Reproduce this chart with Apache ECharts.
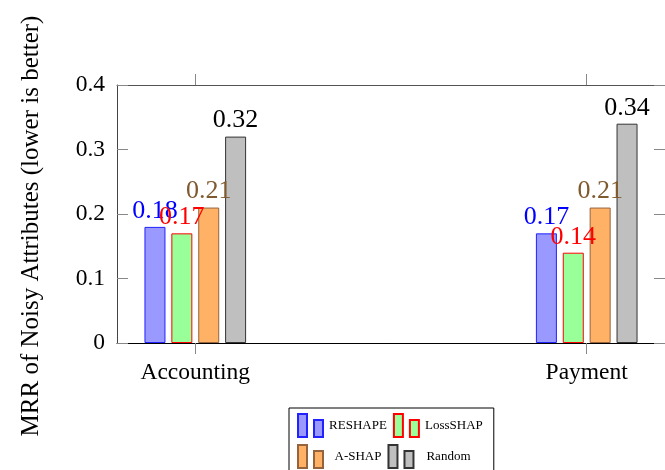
<!DOCTYPE html>
<html>
<head>
<meta charset="utf-8">
<script src="https://cdn.jsdelivr.net/npm/echarts@6/dist/echarts.min.js"></script>
<style>
  html, body { margin: 0; padding: 0; background: #fff; }
  #main { width: 665px; height: 470px; }
</style>
</head>
<body>
<div id="main"></div>
<script>
// 类别与各方法的数值
const categories = ['Accounting', 'Payment'];
const methods = ['RESHAPE', 'LossSHAP', 'A-SHAP', 'Random'];
const reshape = [0.18, 0.17];
const lossShap = [0.17, 0.14];
const aShap = [0.21, 0.21];
const randomVals = [0.32, 0.34];
const yTitle = 'MRR of Noisy Attributes (lower is better)';

const serif = 'Liberation Serif, Times New Roman, serif';
// 图例里的两个小柱子
const legendIcon = 'path://M0,0 h9 v23 h-9 Z M16,6 h9 v17 h-9 Z';

const styles = [
  {fill: '#9999ff', border: '#2222ff', label: '#0000ff'},
  {fill: '#99ff99', border: '#ff0000', label: '#ff0000'},
  {fill: '#ffb266', border: '#96643c', label: '#7f5a2f'},
  {fill: '#bfbfbf', border: '#333333', label: '#000000'}
];
const allValues = [reshape, lossShap, aShap, randomVals];

const makeSeries = (i) => ({
  name: methods[i],
  type: 'bar',
  barWidth: 21,
  barGap: '28%',
  data: allValues[i].map((v, k) => [k, v]),
  itemStyle: {color: styles[i].fill, borderColor: styles[i].border, borderWidth: 1},
  label: {
    show: true,
    position: 'top',
    distance: 3,
    fontFamily: serif,
    fontSize: 26,
    color: styles[i].label,
    formatter: (p) => p.value[1].toFixed(2)
  }
});

const frame = (pos, color) => ({show: true, onZero: false, lineStyle: {color: color, width: 1}});

let myChart = echarts.init(document.getElementById('main'));
myChart.setOption({
  animation: false,
  grid: {left: 117, top: 85, width: 550, height: 258},
  graphic: [{
    type: 'text',
    x: 31,
    y: 226,
    rotation: Math.PI / 2,
    style: {
      text: yTitle,
      fontFamily: serif,
      fontSize: 25,
      fill: '#000',
      align: 'center',
      verticalAlign: 'middle'
    }
  }],
  legend: {
    data: methods,
    left: 289,
    top: 408,
    width: 200,
    padding: [5, 11, 5, 8],
    itemGap: 6,
    itemWidth: 25,
    itemHeight: 23,
    icon: legendIcon,
    borderColor: '#000',
    borderWidth: 1,
    formatter: '{t|{name}}',
    textStyle: {
      rich: {t: {width: 60, align: 'center', fontFamily: serif, fontSize: 13, color: '#000'}}
    }
  },
  xAxis: [
    {
      type: 'value', min: -0.2, max: 1.2, position: 'bottom',
      splitLine: {show: false},
      axisLine: frame('bottom', '#000'),
      axisTick: {show: true, customValues: [0, 1], length: 11, lineStyle: {color: '#888'}},
      axisLabel: {
        customValues: [0, 1], margin: 18,
        fontFamily: serif, fontSize: 23.5, color: '#000',
        formatter: (v) => categories[Math.round(v)]
      }
    },
    {
      type: 'value', min: -0.2, max: 1.2, position: 'top',
      splitLine: {show: false},
      axisLine: frame('top', '#555'),
      axisTick: {show: true, customValues: [0, 1], length: 11, lineStyle: {color: '#888'}},
      axisLabel: {show: false}
    }
  ],
  yAxis: [
    {
      type: 'value', min: 0, max: 0.4, interval: 0.1, position: 'left',
      splitLine: {show: false},
      axisLine: frame('left', '#444'),
      axisTick: {show: true, inside: true, length: 11, lineStyle: {color: '#888'}},
      axisLabel: {
        margin: 12, fontFamily: serif, fontSize: 23.5, color: '#000',
        formatter: (v) => (v === 0 ? '0' : v.toFixed(1))
      }
    },
    {
      type: 'value', min: 0, max: 0.4, interval: 0.1, position: 'right',
      splitLine: {show: false},
      axisLine: frame('right', '#444'),
      axisTick: {show: true, inside: true, length: 11, lineStyle: {color: '#888'}},
      axisLabel: {show: false}
    }
  ],
  series: methods.map((m, i) => makeSeries(i))
});
window.addEventListener('resize', () => {
  myChart.resize();
});
</script>
</body>
</html>
